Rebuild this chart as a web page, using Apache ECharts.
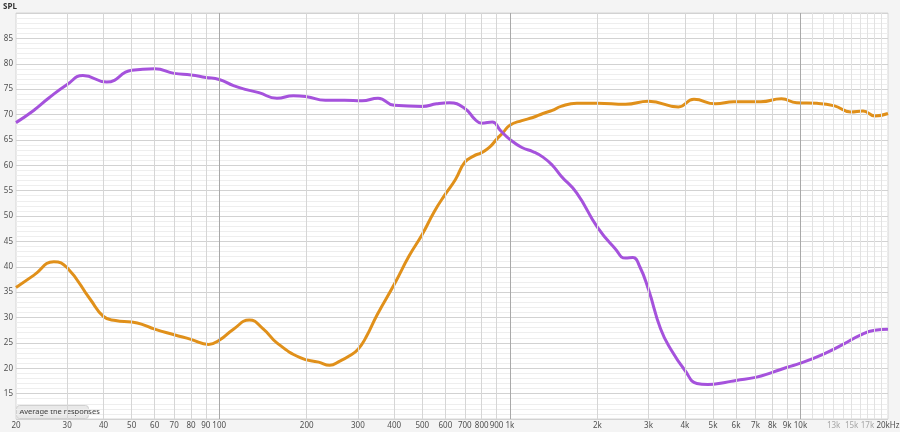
<!DOCTYPE html>
<html>
<head>
<meta charset="utf-8">
<script src="https://cdn.jsdelivr.net/npm/echarts@6/dist/echarts.min.js"></script>
<style>
  html, body { margin: 0; padding: 0; background: #f4f4f4; }
  #chart { width: 900px; height: 432px; }
</style>
</head>
<body>
<div id="chart"></div>
<script>
// purple response
const freqPurple = [20, 23, 26, 30, 34, 41, 50, 60, 70, 80, 90, 100, 112, 124, 137, 158, 180, 200, 232, 270, 310, 352, 400, 500, 560, 620, 700, 760, 800, 870, 930, 1000, 1100, 1200, 1300, 1400, 1500, 1700, 2000, 2300, 2500, 2650, 2800, 3000, 3300, 3600, 4000, 4400, 4800, 5500, 6000, 7000, 8000, 9000, 10000, 12000, 14000, 16000, 18000, 20000];
const splPurple = [68.4, 70.8, 73.3, 75.9, 77.7, 76.4, 78.7, 79.0, 78.1, 77.8, 77.3, 76.9, 75.7, 74.9, 74.3, 73.2, 73.7, 73.5, 72.8, 72.8, 72.7, 73.2, 71.8, 71.6, 72.1, 72.3, 71.2, 69.0, 68.3, 68.5, 66.8, 65.1, 63.5, 62.7, 61.6, 60.0, 57.9, 54.5, 47.8, 43.6, 41.7, 41.8, 40.0, 35.5, 27.8, 23.5, 19.6, 17.0, 16.8, 17.2, 17.6, 18.2, 19.2, 20.2, 21.0, 22.8, 24.7, 26.5, 27.5, 27.7];

// orange response
const freqOrange = [20, 23, 27, 30, 36, 40, 44, 50, 54, 60, 70, 80, 92, 100, 112, 127, 142, 158, 190, 220, 240, 260, 280, 300, 320, 350, 400, 450, 500, 550, 600, 650, 700, 750, 800, 850, 900, 950, 1000, 1100, 1200, 1300, 1400, 1500, 1700, 2000, 2500, 3000, 3800, 4300, 5100, 5900, 7300, 8600, 9700, 11400, 13100, 14900, 16400, 18000, 20000];
const splOrange = [35.9, 38.3, 41.0, 39.8, 33.6, 30.2, 29.4, 29.1, 28.7, 27.7, 26.6, 25.7, 24.7, 25.5, 27.7, 29.5, 27.7, 25.0, 22.1, 21.2, 20.6, 21.4, 22.4, 23.7, 26.1, 30.6, 36.5, 42.1, 46.4, 50.9, 54.3, 57.2, 60.6, 61.8, 62.5, 63.5, 65.1, 66.5, 67.9, 68.8, 69.4, 70.2, 70.8, 71.6, 72.2, 72.2, 72.0, 72.6, 71.5, 73.0, 72.1, 72.5, 72.5, 73.1, 72.3, 72.2, 71.7, 70.5, 70.7, 69.7, 70.2];

// frequency grid and labels
const gridFreqs = [30, 40, 50, 60, 70, 80, 90, 100, 200, 300, 400, 500, 600, 700, 800, 900, 1000, 2000, 3000, 4000, 5000, 6000, 7000, 8000, 9000, 10000, 11000, 12000, 13000, 14000, 15000, 16000, 17000, 18000, 19000];
const decadeFreqs = [100, 1000, 10000];
const tickFreqs = [20, 30, 40, 50, 60, 70, 80, 90, 100, 200, 300, 400, 500, 600, 700, 800, 900, 1000, 2000, 3000, 4000, 5000, 6000, 7000, 8000, 9000, 10000, 13000, 15000, 17000, 20000];
const tickLabels = ['20', '30', '40', '50', '60', '70', '80', '90', '100', '200', '300', '400', '500', '600', '700', '800', '900', '1k', '2k', '3k', '4k', '5k', '6k', '7k', '8k', '9k', '10k', '13k', '15k', '17k', '20kHz'];
const faintLabels = ['13k', '15k', '17k'];

const FONT = "'Noto Sans', 'Open Sans', sans-serif";

function pair(fs, vs) {
  return fs.map((f, i) => [f, vs[i]]);
}

let lineMarks = gridFreqs.map(f => ({
  xAxis: f,
  lineStyle: {
    color: decadeFreqs.indexOf(f) >= 0 ? '#a9a9a9' : (f > 10000 ? '#e2e2e2' : '#d6d6d6'),
    width: 1,
    type: 'solid'
  },
  label: { show: false }
}));

let labelMarks = tickFreqs.map((f, i) => ({
  xAxis: f,
  lineStyle: { color: 'rgba(0,0,0,0)', width: 0 },
  label: {
    show: true,
    position: 'start',
    distance: 3,
    formatter: tickLabels[i],
    color: faintLabels.indexOf(tickLabels[i]) >= 0 ? '#a6a6a6' : '#505050',
    fontSize: 8,
    fontFamily: FONT
  }
}));

let chart = echarts.init(document.getElementById('chart'));
let option = {
  backgroundColor: '#f4f4f4',
  animation: false,
  grid: {
    left: 16,
    right: 12,
    top: 13,
    bottom: 13,
    show: true,
    backgroundColor: '#ffffff',
    borderColor: '#d6d6d6',
    borderWidth: 1
  },
  xAxis: {
    type: 'log',
    logBase: 10,
    min: 20,
    max: 20000,
    axisLine: { show: false },
    axisTick: { show: false },
    axisLabel: { show: false },
    splitLine: { show: false }
  },
  yAxis: {
    type: 'value',
    min: 10,
    max: 90,
    interval: 5,
    axisLine: { show: false },
    axisTick: { show: false },
    axisLabel: {
      margin: 3,
      fontSize: 8,
      color: '#505050',
      fontFamily: FONT,
      formatter: v => (v <= 10 || v >= 90) ? '' : String(v)
    },
    splitLine: { lineStyle: { color: '#d2d2d2', width: 1 } },
    minorTick: { show: false, splitNumber: 5 },
    minorSplitLine: { show: true, lineStyle: { color: '#eeeeee', width: 1 } }
  },
  graphic: [
    {
      type: 'text',
      left: 3,
      top: 3,
      style: { text: 'SPL', fontSize: 8, fontFamily: FONT, fill: '#333', fontWeight: 'bold' }
    },
    {
      type: 'group',
      left: 16,
      top: 405,
      children: [
        {
          type: 'rect',
          shape: { x: 0, y: 0, width: 72, height: 13, r: 3 },
          style: { fill: '#e9e9e9', stroke: '#d0d0d0', lineWidth: 1 }
        },
        {
          type: 'text',
          style: { x: 3, y: 2.5, text: 'Average the responses', fontSize: 7.5, fontFamily: FONT, fill: '#404040' }
        }
      ]
    }
  ],
  series: [
    {
      name: 'grid',
      type: 'line',
      data: [],
      silent: true,
      z: 1,
      markLine: {
        silent: true,
        symbol: ['none', 'none'],
        animation: false,
        data: lineMarks.concat(labelMarks)
      }
    },
    {
      name: 'orange',
      type: 'line',
      data: pair(freqOrange, splOrange),
      smooth: 0.5,
      symbol: 'none',
      z: 3,
      lineStyle: { color: '#e0901a', width: 3 }
    },
    {
      name: 'purple',
      type: 'line',
      data: pair(freqPurple, splPurple),
      smooth: 0.5,
      symbol: 'none',
      z: 4,
      lineStyle: { color: '#a552dc', width: 3 }
    }
  ]
};
chart.setOption(option);
</script>
</body>
</html>
